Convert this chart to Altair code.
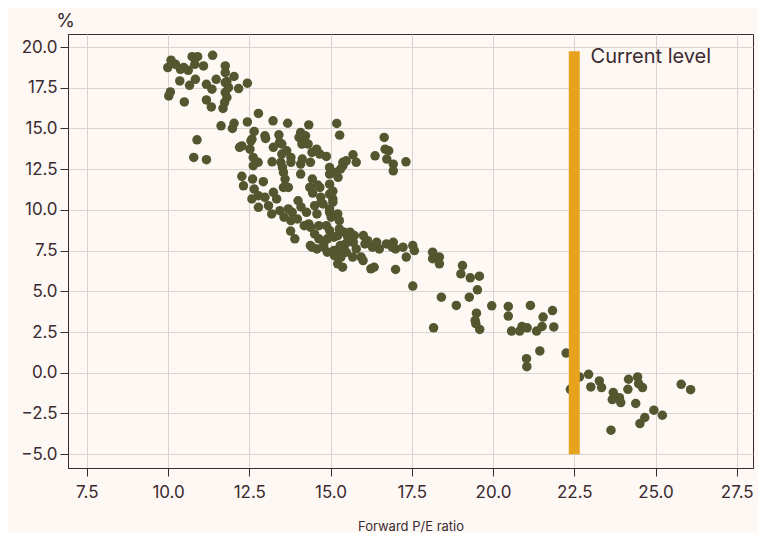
import altair as alt
import pandas as pd

# Forward P/E ratio (x) and subsequent return in % (y)
pe = [
    9.99, 10.09, 10.23, 10.38, 10.48, 10.62, 10.74, 10.91, 10.82, 11.09, 11.37, 10.36, 10.66, 10.84,
    10.02, 10.07, 10.50, 11.18, 11.35, 11.48, 11.76, 11.76, 12.03, 11.76, 11.86, 11.76, 11.81, 11.74,
    11.69, 12.17, 12.44, 11.18, 11.33, 11.63, 12.03, 11.98, 12.44, 10.89, 10.79, 11.18, 11.81, 12.78,
    12.27, 12.20, 12.65, 12.58, 12.98, 13.23, 13.00, 13.41, 13.43, 13.68, 14.08, 14.03, 14.23, 14.33,
    14.12, 14.12, 12.52, 12.55, 13.24, 13.50, 13.50, 13.65, 14.31, 14.43, 14.67, 14.87, 12.62, 12.77,
    12.62, 13.20, 13.47, 13.52, 13.78, 13.78, 14.08, 14.13, 14.38, 14.97, 14.97, 15.23, 15.38, 15.48,
    15.69, 15.79, 15.31, 15.16, 15.38, 14.57, 15.19, 15.28, 12.27, 12.32, 12.60, 12.65, 12.93, 13.60,
    13.55, 13.55, 14.08, 14.44, 14.60, 14.67, 14.97, 15.07, 12.58, 12.78, 12.98, 13.24, 13.34, 12.78,
    13.09, 13.19, 13.44, 13.70, 14.00, 14.26, 14.51, 14.71, 14.97, 15.02, 13.57, 13.78, 13.98, 14.19,
    14.39, 14.64, 14.97, 15.27, 14.38, 14.64, 14.79, 15.10, 15.30, 15.60, 15.70, 16.01, 16.06, 16.42,
    16.72, 16.93, 17.23, 16.37, 16.68, 16.65, 16.73, 16.93, 16.93, 17.32, 16.79, 13.70, 14.36, 15.07,
    14.77, 14.97, 15.22, 15.27, 13.82, 14.33, 14.87, 14.51, 14.43, 14.58, 14.79, 14.90, 15.10, 15.27,
    15.48, 15.68, 15.22, 15.37, 15.32, 15.12, 15.22, 15.42, 15.53, 15.73, 15.94, 16.00, 16.14, 16.29,
    16.24, 16.34, 16.90, 17.00, 17.33, 17.53, 17.58, 17.00, 17.53, 18.14, 18.14, 18.35, 18.35, 19.06,
    19.01, 18.41, 18.87, 19.27, 19.30, 19.58, 19.52, 19.49, 19.45, 19.47, 19.59, 18.17, 19.96, 20.47,
    20.47, 21.15, 21.83, 21.54, 21.87, 21.51, 21.34, 21.05, 20.89, 20.82, 20.57, 21.44, 21.03, 21.04,
    22.25, 22.66, 22.94, 22.38, 23.01, 23.27, 23.34, 23.70, 23.67, 23.89, 23.93, 24.15, 24.17, 24.45,
    24.48, 24.60, 24.39, 24.95, 25.21, 24.67, 24.52, 23.63, 25.79, 26.08,
    14.97, 15.07, 14.70, 14.45, 14.58, 14.09, 14.90, 15.46, 15.79, 16.50, 13.90, 13.77,
]
ret = [
    18.74, 19.19, 18.94, 18.63, 18.74, 18.57, 19.41, 19.41, 18.94, 18.84, 19.49, 17.92, 17.65, 18.02,
    17.00, 17.24, 16.63, 17.71, 17.41, 18.02, 18.84, 18.43, 18.19, 17.82, 17.51, 17.21, 16.90, 16.59,
    16.23, 17.45, 17.78, 16.75, 16.32, 15.16, 15.32, 15.00, 15.40, 14.30, 13.22, 13.08, 17.88, 15.92,
    13.93, 13.84, 14.82, 14.34, 14.55, 15.47, 14.39, 14.61, 14.14, 15.32, 14.75, 14.45, 14.55, 15.22,
    14.24, 14.04, 13.73, 14.24, 13.84, 14.04, 13.43, 13.63, 14.04, 13.53, 13.43, 13.28, 13.22, 12.92,
    12.71, 12.95, 12.92, 12.61, 13.22, 12.92, 12.81, 13.12, 12.92, 12.61, 12.20, 12.00, 12.92, 13.01,
    13.38, 12.92, 12.51, 12.30, 12.71, 13.73, 15.31, 14.59, 12.06, 11.48, 11.89, 11.28, 11.73, 11.89,
    11.38, 12.30, 12.20, 11.89, 11.53, 11.38, 10.97, 10.67, 10.67, 10.87, 10.77, 11.08, 10.67, 10.16,
    10.26, 9.75, 9.95, 10.06, 10.56, 9.85, 10.26, 10.47, 10.06, 9.55, 9.55, 9.34, 9.44, 9.03,
    8.93, 9.03, 8.73, 8.83, 7.81, 8.22, 7.91, 8.32, 7.81, 8.63, 8.01, 8.42, 7.91, 8.01,
    7.91, 8.01, 7.71, 13.32, 13.73, 14.45, 13.12, 12.81, 12.40, 12.95, 13.63, 11.38, 11.38, 10.47,
    10.36, 9.85, 9.75, 9.34, 9.85, 9.14, 9.03, 8.52, 7.71, 7.60, 7.71, 7.40, 7.50, 7.60,
    7.40, 7.10, 6.69, 6.48, 7.10, 7.19, 8.42, 8.63, 8.32, 8.42, 7.10, 6.89, 8.11, 7.71,
    6.38, 6.48, 7.71, 7.60, 7.10, 7.81, 7.50, 6.34, 5.32, 7.40, 7.00, 7.10, 6.69, 6.58,
    6.07, 4.64, 4.13, 4.64, 5.83, 5.93, 5.09, 3.66, 3.21, 3.01, 2.66, 2.76, 4.11, 4.07,
    3.48, 4.13, 3.82, 3.42, 2.81, 2.84, 2.56, 2.76, 2.84, 2.56, 2.56, 1.34, 0.86, 0.37,
    1.21, -0.26, -0.10, -1.02, -0.87, -0.50, -0.91, -1.22, -1.65, -1.53, -1.83, -1.02, -0.40, -0.26,
    -0.67, -0.91, -1.89, -2.30, -2.61, -2.75, -3.12, -3.53, -0.71, -1.04,
    11.58, 11.15, 10.78, 11.03, 9.75, 10.18, 8.22, 7.91, 7.60, 7.60, 8.22, 8.70,
]

current_pe = [22.5]
current_low = [-5.0]
current_high = [19.74]
label_text = ["Current level"]
label_x = [23.0]
label_y = [19.37]

x_ticks = [7.5, 10.0, 12.5, 15.0, 17.5, 20.0, 22.5, 25.0, 27.5]
y_ticks = [-5.0, -2.5, 0.0, 2.5, 5.0, 7.5, 10.0, 12.5, 15.0, 17.5, 20.0]

FONT = "Inter"
DARK = "#3b2a30"
OLIVE = "#535730"
ORANGE = "#e8a31e"
GRID = "#d9d3d1"
BG = "#fdf8f4"

pts = pd.DataFrame({"pe": pe, "ret": ret})
cur = pd.DataFrame({"pe": current_pe, "lo": current_low, "hi": current_high})
lab = pd.DataFrame({"pe": label_x, "ret": label_y, "t": label_text})

xscale = alt.Scale(domain=[6.92, 28.0], nice=False, zero=False)
yscale = alt.Scale(domain=[-5.85, 20.8], nice=False, zero=False)

xaxis = alt.Axis(
    values=x_ticks, format=".1f", title="Forward P/E ratio",
    titleFontSize=13, titleFontWeight="normal", titleColor=DARK, titleFont=FONT,
    titleY=58, titleBaseline="middle",
    labelFontSize=17, labelColor=DARK, labelFont=FONT, labelPadding=8,
    tickSize=8, tickColor=DARK, domainColor=DARK, gridColor=GRID,
)
yaxis = alt.Axis(
    values=y_ticks, format=".1f", title="%",
    titleFontSize=19, titleFontWeight="normal", titleColor=DARK, titleFont=FONT,
    titleAngle=0, titleX=-3, titleY=-14, titleAlign="center", titleBaseline="middle",
    labelFontSize=17, labelColor=DARK, labelFont=FONT, labelPadding=3,
    tickSize=8, tickColor=DARK, domainColor=DARK, gridColor=GRID,
)

points = alt.Chart(pts).mark_circle(size=90, opacity=1, color=OLIVE).encode(
    x=alt.X("pe:Q", scale=xscale, axis=xaxis),
    y=alt.Y("ret:Q", scale=yscale, axis=yaxis),
)

bar = alt.Chart(cur).mark_rule(color=ORANGE, strokeWidth=11, strokeCap="butt").encode(
    x=alt.X("pe:Q", scale=xscale),
    y=alt.Y("lo:Q", scale=yscale),
    y2="hi:Q",
)

text = alt.Chart(lab).mark_text(
    align="left", baseline="middle", fontSize=20, font=FONT, color=DARK
).encode(
    x=alt.X("pe:Q", scale=xscale),
    y=alt.Y("ret:Q", scale=yscale),
    text="t:N",
)

chart = alt.layer(points, bar, text).properties(
    width=685, height=434,
    autosize=alt.AutoSizeParams(type="none"),
    padding={"left": 60, "top": 26, "right": 5, "bottom": 65},
    background=BG,
).configure_view(stroke=DARK, strokeWidth=1)

chart.save("out.html", embed_options={"renderer": "svg", "actions": False})
